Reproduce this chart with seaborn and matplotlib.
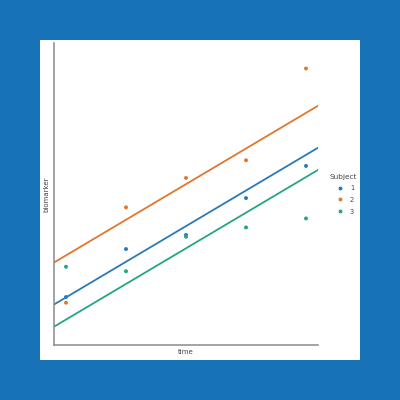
import numpy as np
import matplotlib
matplotlib.use("Agg")
import matplotlib.pyplot as plt
import pandas as pd
import seaborn as sns

# data
time = [1, 2, 3, 4, 5]
subject_1 = [1.60, 3.20, 3.67, 4.90, 5.97]
subject_2 = [1.41, 4.59, 5.57, 6.16, 9.22]
subject_3 = [2.61, 2.46, 3.61, 3.92, 4.22]
subjects = ["1", "2", "3"]
# fitted lines: one common slope, one intercept per subject
slope = 1.188
intercepts = [0.40, 1.80, -0.34]
colours = ["#2a7ab9", "#e0772e", "#24a585"]

df = pd.DataFrame({
    "time": time * 3,
    "biomarker": subject_1 + subject_2 + subject_3,
    "Subject": [s for s in subjects for _ in time],
})

sns.set_style("white")
plt.rcParams["font.family"] = ["DejaVu Sans"]

fig = plt.figure(figsize=(4, 4), dpi=100, facecolor="#1872b8")
bg = fig.add_axes([0.1, 0.1, 0.8, 0.8])
bg.set_facecolor("white")
bg.set_xticks([])
bg.set_yticks([])
for sp in bg.spines.values():
    sp.set_visible(False)

ax = fig.add_axes([0.135, 0.1375, 0.66, 0.755])
ax.set_facecolor("none")
pal = dict(zip(subjects, colours))
sns.scatterplot(data=df, x="time", y="biomarker", hue="Subject", palette=pal,
                s=8, linewidth=0, ax=ax, zorder=3)
for s, b in zip(subjects, intercepts):
    ax.axline((0, b), slope=slope, color=pal[s], lw=1.3, zorder=2)

ax.set_xlim(0.8, 5.2)
ax.set_ylim(0, 10.07)
ax.set_xticks([])
ax.set_yticks([])
for side in ["top", "right"]:
    ax.spines[side].set_visible(False)
for side in ["left", "bottom"]:
    ax.spines[side].set_color("#8a8a8a")
    ax.spines[side].set_linewidth(1.1)
ax.set_xlabel("time", fontsize=5, color="#444444", labelpad=3)
ax.set_ylabel("biomarker", fontsize=5, color="#444444", labelpad=3)

leg = ax.legend(title="Subject", loc="center left", bbox_to_anchor=(1.02, 0.5),
                frameon=False, fontsize=4.8, title_fontsize=5.3, markerscale=1.0,
                handletextpad=0.5, labelspacing=0.85, borderaxespad=0.6)
for t in leg.get_texts():
    t.set_color("#444444")
leg.get_title().set_color("#444444")

fig.savefig("out.png", dpi=100, facecolor=fig.get_facecolor())
